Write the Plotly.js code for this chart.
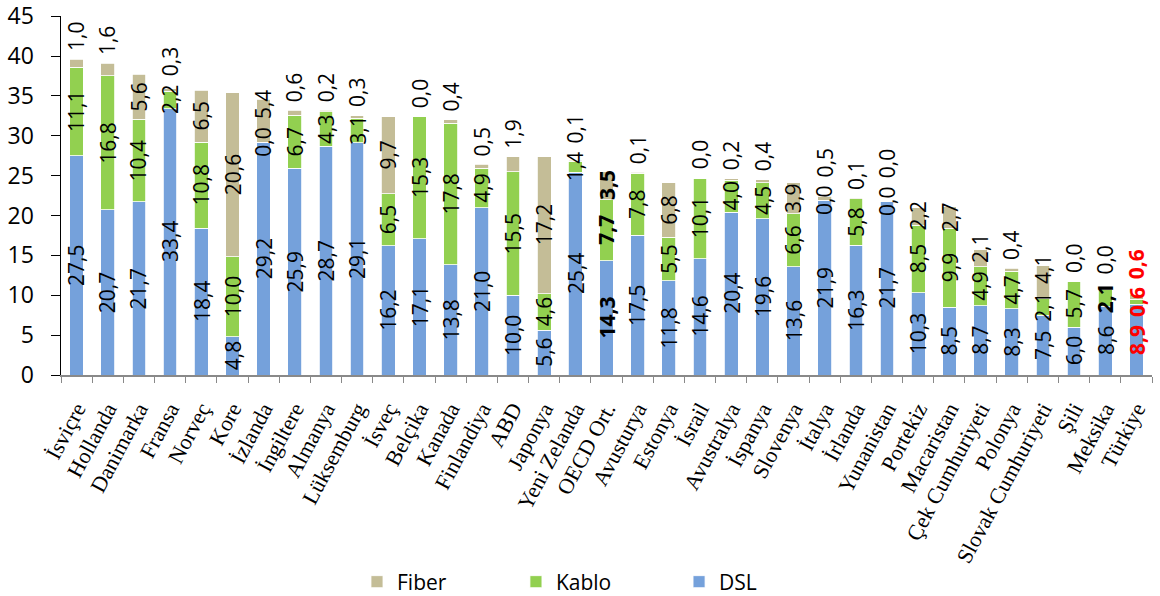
<!DOCTYPE html>
<html><head><meta charset="utf-8">
<script src="https://cdn.plot.ly/plotly-3.0.1.min.js"></script>
<style>html,body{margin:0;padding:0;background:#fff}#chart{width:1160px;height:596px}</style>
</head><body><div id="chart"></div>
<script>
const countries = ["İsviçre","Hollanda","Danimarka","Fransa","Norveç","Kore","İzlanda","İngiltere","Almanya","Lüksemburg","İsveç","Belçika","Kanada","Finlandiya","ABD","Japonya","Yeni Zelanda","OECD Ort.","Avusturya","Estonya","İsrail","Avustralya","İspanya","Slovenya","İtalya","İrlanda","Yunanistan","Portekiz","Macaristan","Çek Cumhuriyeti","Polonya","Slovak Cumhuriyeti","Şili","Meksika","Türkiye"];
const dsl   = [27.5,20.7,21.7,33.4,18.4,4.8,29.2,25.9,28.7,29.1,16.2,17.1,13.8,21.0,10.0,5.6,25.4,14.3,17.5,11.8,14.6,20.4,19.6,13.6,21.9,16.3,21.7,10.3,8.5,8.7,8.3,7.5,6.0,8.6,8.9];
const kablo = [11.1,16.8,10.4,2.2,10.8,10.0,0.0,6.7,4.3,3.1,6.5,15.3,17.8,4.9,15.5,4.6,1.4,7.7,7.8,5.5,10.1,4.0,4.5,6.6,0.0,5.8,0.0,8.5,9.9,4.9,4.7,2.1,5.7,2.1,0.6];
const fiber = [1.0,1.6,5.6,0.3,6.5,20.6,5.4,0.6,0.2,0.3,9.7,0.0,0.4,0.5,1.9,17.2,0.1,3.5,0.1,6.8,0.0,0.2,0.4,3.9,0.5,0.1,0.0,2.2,2.7,2.1,0.4,4.1,0.0,0.0,0.6];
const yTickVals = [0,5,10,15,20,25,30,35,40,45];

const Y_MAX = 45;
const PLOT_H = 596 - 16 - 221;          // plot height in px
const PX_PER_UNIT = PLOT_H / Y_MAX;
const FONT_SIZE = 21;

const fmt = v => v.toFixed(1).replace('.', ',');
const labelColor = c => c === "Türkiye" ? "#ff0000" : "#000000";
const labelWeight = (c, key) => (c === "Türkiye" || c === "OECD Ort." || (c === "Meksika" && key === "kablo")) ? "bold" : "normal";
// approximate rotated label length in px
const labelLen = s => s.replace(',', '').length * 0.572 * FONT_SIZE + 0.27 * FONT_SIZE;

function barTrace(name, vals, color, legendId){
  return {
    type: 'bar', name: name, x: countries, y: vals,
    marker: {color: color, line: {width: 0.8, color: '#ffffff'}},
    legend: legendId,
    hoverinfo: 'skip'
  };
}

const data = [
  barTrace('DSL', dsl, '#75a1db', 'legend3'),
  barTrace('Kablo', kablo, '#92d050', 'legend2'),
  barTrace('Fiber', fiber, '#c4bd97', 'legend')
];

// value labels: centred in their segment, nudged apart so they do not overlap
const GAP = 8;
const annotations = [];
function lab(c, cPx, v, key){
  annotations.push({
    xref: 'x', yref: 'y', x: c, y: cPx / PX_PER_UNIT, text: fmt(v),
    showarrow: false, textangle: -90, yanchor: 'middle', borderpad: 0,
    font: {family: 'Open Sans, sans-serif', size: FONT_SIZE, color: labelColor(c), weight: labelWeight(c, key)}
  });
}
countries.forEach((c, i) => {
  const t1 = fmt(dsl[i]), t2 = fmt(kablo[i]), t3 = fmt(fiber[i]);
  const L1 = labelLen(t1), L2 = labelLen(t2), L3 = labelLen(t3);
  const c1 = Math.max(dsl[i] / 2 * PX_PER_UNIT, L1 / 2 + 2);
  let c2 = (dsl[i] + kablo[i] / 2) * PX_PER_UNIT;
  c2 = Math.max(c2, c1 + (L1 + L2) / 2 + GAP);
  const top = dsl[i] + kablo[i] + fiber[i];
  let c3 = fiber[i] >= 2 ? (top - fiber[i] / 2) * PX_PER_UNIT : top * PX_PER_UNIT + 8 + L3 / 2;
  c3 = Math.max(c3, c2 + (L2 + L3) / 2 + GAP);
  lab(c, c1, dsl[i], 'dsl');
  lab(c, c2, kablo[i], 'kablo');
  lab(c, c3, fiber[i], 'fiber');
});

const legendBase = {
  orientation: 'h', y: -0.5766, yanchor: 'middle', xanchor: 'left',
  font: {family: 'Open Sans, sans-serif', size: 21, color: '#000'},
  bgcolor: 'rgba(0,0,0,0)', borderwidth: 0
};

const layout = {
  width: 1160, height: 596,
  margin: {l: 61, r: 8, t: 16, b: 221, autoexpand: false},
  barmode: 'stack', bargap: 0.56,
  paper_bgcolor: '#fff', plot_bgcolor: '#fff',
  font: {family: 'Open Sans, sans-serif', color: '#000'},
  xaxis: {
    type: 'category', tickangle: -62, automargin: false,
    tickfont: {family: 'Liberation Serif, Times New Roman, serif', size: 22, color: '#000'},
    showline: true, linecolor: '#898989', linewidth: 1.5,
    ticks: 'outside', tickson: 'boundaries', ticklen: 6, tickcolor: '#898989',
    ticklabelstandoff: 11,
    showgrid: false, zeroline: false
  },
  yaxis: {
    range: [0, Y_MAX * 1.0004], tickvals: yTickVals, ticktext: yTickVals.map(String), automargin: false,
    tickfont: {family: 'Open Sans, sans-serif', size: 23, color: '#000'},
    showline: true, linecolor: '#000', linewidth: 1.5,
    ticks: 'outside', ticklen: 9, tickcolor: '#000',
    ticklabelstandoff: 12, ticklabeloverflow: 'allow',
    showgrid: false, zeroline: false
  },
  legend: Object.assign({}, legendBase, {x: 0.2713}),
  legend2: Object.assign({}, legendBase, {x: 0.4170}),
  legend3: Object.assign({}, legendBase, {x: 0.5665}),
  showlegend: true,
  annotations: annotations
};

Plotly.newPlot('chart', data, layout, {staticPlot: true, displayModeBar: false});
</script></body></html>
